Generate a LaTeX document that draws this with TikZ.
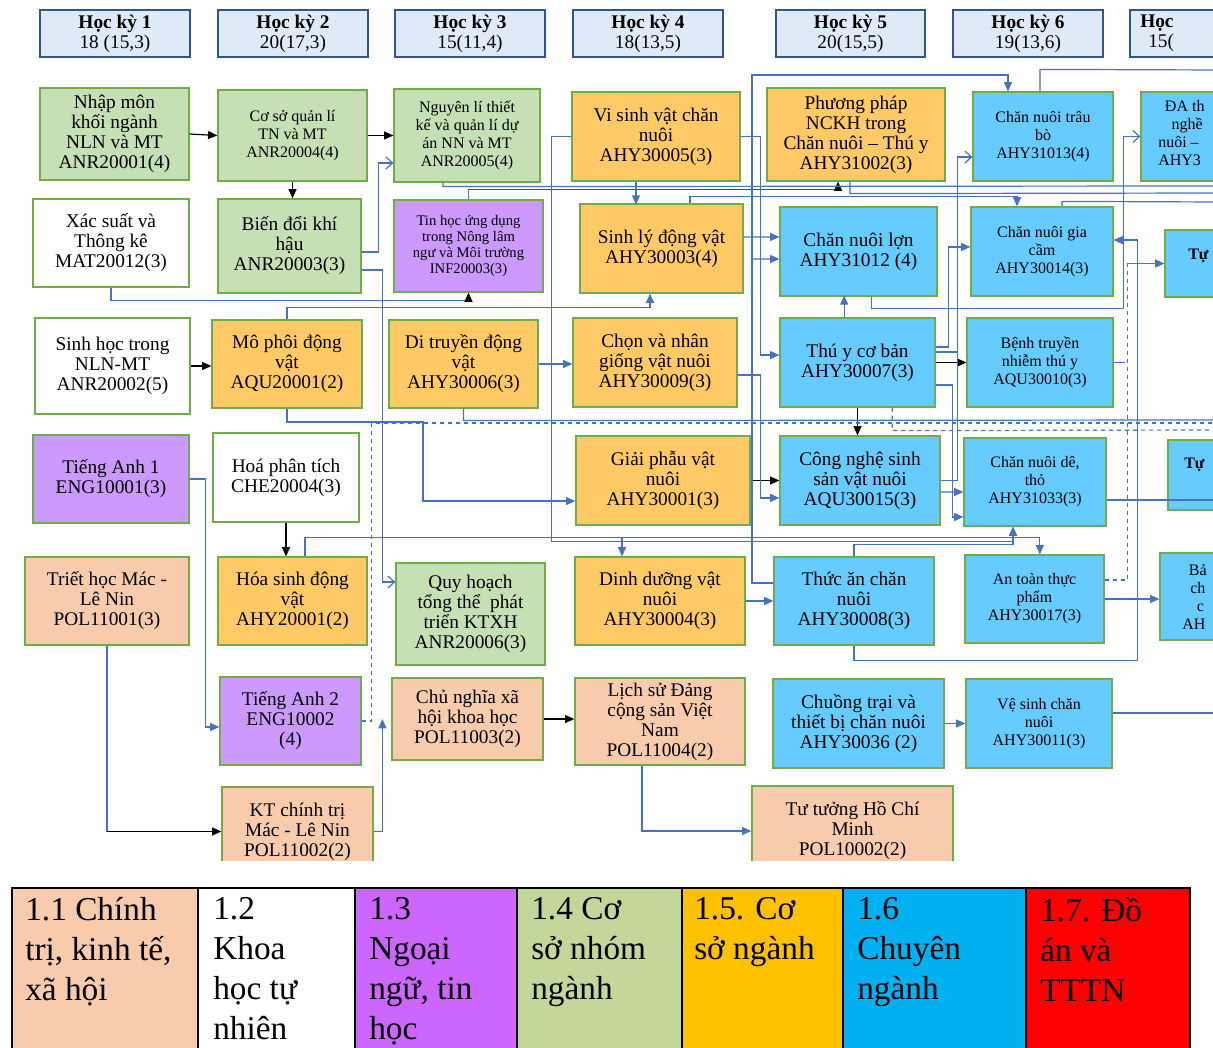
\documentclass[tikz,border=0pt]{standalone}
\usepackage{fontspec}
\setmainfont{Liberation Serif}
\usetikzlibrary{arrows.meta}
\definecolor{cgreen}{HTML}{C5E0B4}
\definecolor{corange}{HTML}{FFC966}
\definecolor{cblue}{HTML}{66CCFF}
\definecolor{cpurple}{HTML}{CC99FF}
\definecolor{cpeach}{HTML}{F8CBAD}
\definecolor{bgreen}{HTML}{70AD47}
\definecolor{lblue}{HTML}{4472C4}
\definecolor{hblue}{HTML}{2F5597}
\definecolor{hfill}{HTML}{DEEBF7}
\definecolor{lgpurple}{HTML}{CC66FF}
\definecolor{lggreen}{HTML}{C4D79B}
\definecolor{lgorange}{HTML}{FFC000}
\definecolor{lgblue}{HTML}{00B0F0}
\newcommand\course[7]{\node[#1, minimum width={(#5-#3)*0.75pt}, minimum height={(#6-#4)*0.75pt}] (#2) at ({(#3+#5)/2},{(#4+#6)/2}) {#7};}
\tikzset{
  course/.style={draw=bgreen, line width=0.9pt, align=center, inner sep=1pt, font=\fontsize{14.5}{15}\selectfont},
  small/.style={font=\fontsize{12}{13.5}\selectfont},
  tiny/.style={font=\fontsize{11}{12}\selectfont},
  gr/.style={course, fill=cgreen},
  wh/.style={course, fill=white},
  or/.style={course, fill=corange},
  bu/.style={course, fill=cblue},
  pu/.style={course, fill=cpurple},
  pe/.style={course, fill=cpeach},
  hdr/.style={draw=hblue, fill=hfill, line width=2.2pt, align=center, inner sep=1pt, font=\fontsize{14.5}{15}\selectfont},
  bl/.style={draw=lblue, line width=0.9pt},
  arr/.style={-{Triangle[length=7pt,width=6pt]}},
  oarr/.style={-{Straight Barb[length=5pt,width=9pt]}},
  blk/.style={draw=black, line width=0.9pt, -{Triangle[length=7pt,width=6pt]}},
  lg/.style={anchor=north west, align=left, inner sep=0pt, font=\fontsize{25}{30}\selectfont},
  cell/.style={draw=black, line width=1.2pt},
}
\begin{document}
\begin{tikzpicture}[x=0.75pt,y=-0.75pt]
\useasboundingbox (0,0) rectangle (1213,1048);
\fill[white] (0,0) rectangle (1213,1048);
\begin{scope}
\clip (0,0) rectangle (1213,860);
% headers
\course{hdr}{h1}{40}{10}{190}{57}{\textbf{Học kỳ 1}\\18 (15,3)}
\course{hdr}{h2}{218}{10}{368}{57}{\textbf{Học kỳ 2}\\20(17,3)}
\course{hdr}{h3}{395}{10}{545}{57}{\textbf{Học kỳ 3}\\15(11,4)}
\course{hdr}{h4}{573}{10}{723}{57}{\textbf{Học kỳ 4}\\18(13,5)}
\course{hdr}{h5}{776}{10}{925}{57}{\textbf{Học kỳ 5}\\20(15,5)}
\course{hdr}{h6}{953}{10}{1103}{57}{\textbf{Học kỳ 6}\\19(13,6)}
\course{hdr}{h7}{1130}{10}{1280}{57}{}
\node[anchor=west, inner sep=0pt, font=\fontsize{14.5}{15}\selectfont\bfseries] (h7a) at (1140,23) {Học};
\node[anchor=west, inner sep=0pt, font=\fontsize{14.5}{15}\selectfont] (h7b) at (1148,43) {15(};
% courses
\course{gr}{n1}{40}{88}{189}{180}{Nhập môn\\khối ngành\\NLN và MT\\ANR20001(4)}
\course{wh}{n2}{33}{199}{189}{287}{Xác suất và\\Thông kê\\MAT20012(3)}
\course{wh}{n3}{35}{318}{190}{414}{Sinh học trong\\NLN-MT\\ANR20002(5)}
\course{pu}{n4}{33}{435}{189}{523}{Tiếng Anh 1\\ENG10001(3)}
\course{pe}{n5}{25}{557}{189}{645}{Triết học Mác -\\Lê Nin\\POL11001(3)}
\course{gr,small}{n6}{218}{90}{367}{181}{Cơ sở quản lí\\TN và MT\\ANR20004(4)}
\course{gr}{n7}{218}{199}{361}{293}{Biến đổi khí\\hậu\\ANR20003(3)}
\course{or}{n8}{212}{320}{362}{408}{Mô phôi động\\vật\\AQU20001(2)}
\course{wh}{n9}{213}{433}{359}{522}{Hoá phân tích\\CHE20004(3)}
\course{or}{n10}{218}{557}{367}{645}{Hóa sinh động\\vật\\AHY20001(2)}
\course{pu}{n11}{220}{677}{361}{765}{Tiếng Anh 2\\ENG10002\\(4)}
\course{pe}{n12}{222}{787}{373}{876}{KT chính trị\\Mác - Lê Nin\\POL11002(2)}
\course{gr,small}{n13}{394}{89}{540}{182}{Nguyên lí thiết\\kế và quản lí dự\\án NN và MT\\ANR20005(4)}
\course{pu,tiny}{n14}{394}{200}{543}{292}{Tin học ứng dụng\\trong Nông lâm\\ngư và Môi trường\\INF20003(3)}
\course{or}{n15}{389}{320}{538}{408}{Di truyền động\\vật\\AHY30006(3)}
\course{gr}{n16}{396}{563}{545}{665}{Quy hoạch\\tổng thể\ \ phát\\triển KTXH\\ANR20006(3)}
\course{pe}{n17}{392}{678}{543}{760}{Chủ nghĩa xã\\hội khoa học\\POL11003(2)}
\course{or}{n18}{572}{92}{740}{181}{Vi sinh vật chăn\\nuôi\\AHY30005(3)}
\course{or}{n19}{580}{204}{743}{293}{Sinh lý động vật\\AHY30003(4)}
\course{or}{n20}{573}{318}{737}{407}{Chọn và nhân\\giống vật nuôi\\AHY30009(3)}
\course{or}{n21}{576}{436}{750}{525}{Giải phẫu vật\\nuôi\\AHY30001(3)}
\course{or}{n22}{575}{557}{745}{645}{Dinh dưỡng vật\\nuôi\\AHY30004(3)}
\course{pe}{n23}{575}{678}{745}{765}{Lịch sử Đảng\\cộng sản Việt\\Nam\\POL11004(2)}
\course{pe}{n24}{752}{786}{953}{876}{Tư tưởng Hồ Chí\\Minh\\POL10002(2)}
\course{or}{n25}{767}{88}{945}{181}{Phương pháp\\NCKH trong\\Chăn nuôi – Thú y\\AHY31002(3)}
\course{bu}{n26}{780}{207}{937}{296}{Chăn nuôi lợn\\AHY31012 (4)}
\course{bu}{n27}{780}{318}{935}{407}{Thú y cơ bản\\AHY30007(3)}
\course{bu}{n28}{780}{436}{940}{525}{Công nghệ sinh\\sản vật nuôi\\AQU30015(3)}
\course{bu}{n29}{774}{557}{934}{645}{Thức ăn chăn\\nuôi\\AHY30008(3)}
\course{bu}{n30}{773}{679}{944}{768}{Chuồng trại và\\thiết bị chăn nuôi\\AHY30036 (2)}
\course{bu,small}{n31}{973}{92}{1113}{181}{Chăn nuôi trâu\\bò\\AHY31013(4)}
\course{bu,small}{n32}{971}{207}{1113}{296}{Chăn nuôi gia\\cầm\\AHY30014(3)}
\course{bu,small}{n33}{967}{318}{1113}{407}{Bệnh truyền\\nhiễm thú y\\AQU30010(3)}
\course{bu,small}{n34}{964}{438}{1106}{526}{Chăn nuôi dê,\\thỏ\\AHY31033(3)}
\course{bu,small}{n35}{965}{555}{1104}{643}{An toàn thực\\phẩm\\AHY30017(3)}
\course{bu,small}{n36}{966}{679}{1112}{768}{Vệ sinh chăn\\nuôi\\AHY30011(3)}
\course{bu}{n37}{1141}{92}{1291}{181}{}
\course{bu}{n38}{1165}{230}{1290}{297}{}
\course{bu}{n39}{1168}{440}{1290}{510}{}
\course{bu}{n40}{1160}{553}{1290}{640}{}
\node[anchor=north west, align=left, inner sep=0pt, font=\fontsize{12}{13.5}\selectfont] (t37) at (1158,100) {\hspace*{5pt}ĐA th\\\hspace*{10pt}nghề\\nuôi –\\AHY3};
\node[anchor=west, inner sep=0pt, font=\fontsize{12}{13.5}\selectfont\bfseries] (t38) at (1188,256) {Tự};
\node[anchor=west, inner sep=0pt, font=\fontsize{12}{13.5}\selectfont\bfseries] (t39) at (1184,465) {Tự};
\node[anchor=north west, align=left, inner sep=0pt, font=\fontsize{12}{13.5}\selectfont] (t40) at (1182,564) {\hspace*{5pt}Bả\\\hspace*{6pt}ch\\\hspace*{11pt}c\\AH};
% black connectors
\draw[blk] (n1.east) -- (n6.west);
\draw[blk] (n6.south) -- (n6.south |- n7.north);
\draw[blk] (n6.east) -- (n13.west);
\draw[blk] (n3.east) -- (n3.east -| n8.west);
\draw[blk] (n9.south) -- (n9.south |- n10.north);
\draw[bl] (n5.south) -- (n5.south |- n12.west);
\draw[blk] (n5.south |- n12.west) -- (n12.west);
\draw[blk] (n17.east) -- (n17.east -| n23.west);
\draw[blk] (n21.east) -- (n21.east -| n28.west);
\draw[blk] (n27.south) -- (n27.south |- n28.north);
\draw[blk] (n27.east) -- (n27.east -| n33.west);
\draw[bl, -{Triangle[black,length=7pt,width=6pt]}] (n2.south) -- ++(0,13) -| (n14.south);
\draw[bl] (n14.north) -- ++(0,-10) coordinate (r1);
\draw[red, line width=0.9pt, -{Triangle[black,length=7pt,width=6pt]}] (r1) -| ([xshift=-13.5pt]n25.south);
% blue connectors
\draw[bl,oarr] ([yshift=-4.5pt]n7.east) -- ++(17,0) |- ([yshift=-20.6pt]n13.west);
\draw[bl,oarr] ([yshift=-18pt]n7.east) -- ++(21,0) |- ([yshift=24pt]n16.west);
\draw[bl,arr] (n12.east) -| ([xshift=-6.75pt]n17.west);
\draw[bl,dashed] (n11.east) -- ++(10,0) |- (1220,423);
\draw[bl,dashed] ([xshift=26pt]n27.south) -- ++(0,23) -- (1220,430);
\draw[bl,dashed] ([yshift=14.25pt]n35.east) -- ++(23,0) coordinate (d1) -- (d1 |- n38.west) coordinate (d2);
\draw[bl,arr] (d2) -- (n38.west);
\draw[bl] (n15.south) -- ++(0,12) -- (1220,420);
\draw[bl,arr] (n8.south) |- (423,422) |- ([yshift=-15.4pt]n21.west);
\draw[bl,arr] (n8.north) -- ++(0,-12) -| ([xshift=-8.6pt]n19.south);
\draw[bl,arr] ([xshift=9.4pt]n10.north) -- ++(0,-19) -| ([xshift=4pt]n35.north);
\draw[bl,arr] ([xshift=-28.5pt]n22.north) ++(0,-19) -- ++(0,19);
\draw[bl,arr] (n29.north) -- ++(0,-12) -| ([xshift=-16.5pt]n34.south);
\draw[bl,arr] (n18.west) -- ++(-20,0) -- ++(0,405) -| ([xshift=-16.5pt]n34.south);
\draw[bl,arr] (n29.south) -- ++(0,15) -| ([xshift=18pt,yshift=8.6pt]n32.east) -- ([yshift=8.6pt]n32.east);
\draw[bl,arr] ([yshift=13.5pt]n29.west) -| (752,75) -| ([xshift=-26.25pt]n31.north);
\draw[bl,arr] (752,259) -- ([yshift=-5.6pt]n26.west);
\draw[bl,arr] (n18.east) -- ++(20,0) |- ([yshift=5.6pt]n27.west);
\draw[bl,arr] ([xshift=-15pt]n18.south) -- ++(0,23);
\draw[bl,arr] ([yshift=8.6pt]n19.east) -- ([yshift=10.9pt]n26.west);
\draw[bl,arr] ([xshift=21.4pt]n19.north) -- ++(0,-7) -| ([xshift=-18.75pt]n32.north);
\draw[bl] ([xshift=15pt]n32.north) -- ++(0,-5) -- (1220,202);
\draw[bl] ([xshift=-2.25pt]n31.north) -- ++(0,-22) -- (1220,70);
\draw[bl] ([xshift=-18pt]n13.south) -- ++(0,4) -- (1220,186);
\draw[bl] ([xshift=-4.5pt]n25.south) -- ++(0,12) -- (1220,193);
\draw[bl,arr] (n15.east) -- (n15.east -| n20.west);
\draw[bl,arr] ([yshift=-9.4pt]n20.east) -- ++(23,0) |- ([yshift=-13.1pt]n28.west);
\draw[bl,arr] ([xshift=-10pt]n27.north) -- ++(0,-22);
\draw[bl,oarr] ([xshift=10pt]n26.south) -- ++(0,12) -| ([xshift=-12.75pt]n37.west) -- (n37.west);
\draw[bl] (n33.east) -- ++(11,0);
\draw[bl,arr] ([yshift=11.6pt]n27.east) -- ++(13,0) |- ([yshift=3.4pt]n32.west);
\draw[bl,oarr] ([yshift=7.9pt]n27.east) -- ++(22,0) |- ([yshift=-15.4pt]n31.west);
\draw[bl,arr] ([yshift=-16.9pt]n27.east) -- ++(17,0) |- ([yshift=-26.25pt]n34.west);
\draw[bl,arr] ([yshift=-8.6pt]n28.east) -- ([yshift=-7.5pt]n34.west);
\draw[bl] (n28.east) -- ++(17,0) -- ++(0,-128);
\draw[bl,arr] (n4.east) -- ++(16,0) |- ([yshift=-4.5pt]n11.west);
\draw[bl,arr] (n22.east) -- (n22.east -| n29.west);
\draw[bl,arr] (n30.east) -- (n30.east -| n36.west);
\draw[bl,arr] ([xshift=-13.5pt]n23.south) |- (n24.west);
\draw[bl,arr] (n35.east) -- (n35.east -| n40.west);
\draw[bl] ([yshift=-13.5pt]n34.east) -- ++(120,0);
\draw[bl] ([yshift=7.9pt]n36.east) -- ++(110,0);
\end{scope}
% legend
\begin{scope}
\clip (0,0) rectangle (1213,1048);
\draw[cell, fill=cpeach] (12,888) rectangle (198,1070);
\draw[cell, fill=white] (198,888) rectangle (355,1070);
\draw[cell, fill=lgpurple] (355,888) rectangle (517,1070);
\draw[cell, fill=lggreen] (517,888) rectangle (682,1070);
\draw[cell, fill=lgorange] (682,888) rectangle (843,1070);
\draw[cell, fill=lgblue] (843,888) rectangle (1026,1070);
\draw[cell, fill=red] (1026,888) rectangle (1190,1070);
\node[lg] (l1) at (25,897) {1.1 Chính\\trị, kinh tế,\\xã hội};
\node[lg] (l2) at (213,897) {1.2\\Khoa\\học tự\\nhiên};
\node[lg] (l3) at (369,897) {1.3\\Ngoại\\ngữ, tin\\học};
\node[lg] (l4) at (531,897) {1.4 Cơ\\sở nhóm\\ngành};
\node[lg] (l5) at (694,897) {1.5. Cơ\\sở ngành};
\node[lg] (l6) at (857,897) {1.6\\Chuyên\\ngành};
\node[lg] (l7) at (1040,897) {1.7. Đồ\\án và\\TTTN};
\end{scope}
\end{tikzpicture}
\end{document}
